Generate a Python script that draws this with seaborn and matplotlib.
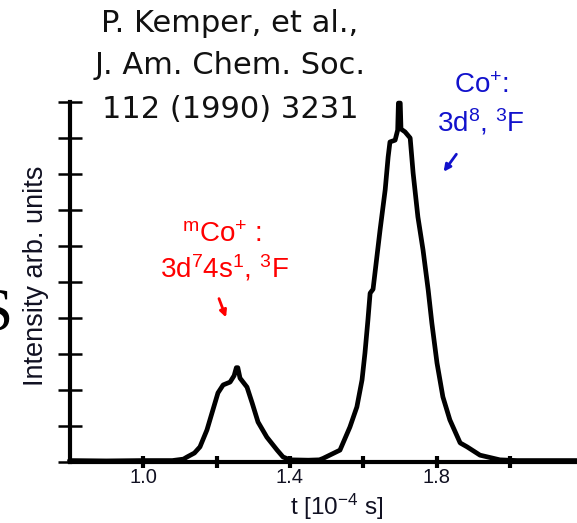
import numpy as np
import pandas as pd
import matplotlib
matplotlib.use("Agg")
import matplotlib.pyplot as plt
import seaborn as sns

# ---- data ----
t_values = [0.80, 0.90, 1.00, 1.08, 1.11, 1.120, 1.140, 1.155, 1.174, 1.190, 1.204,
            1.218, 1.237, 1.248, 1.254, 1.258, 1.264, 1.283, 1.297, 1.313, 1.337,
            1.365, 1.381, 1.40, 1.45, 1.48, 1.490, 1.510, 1.536, 1.563, 1.582,
            1.596, 1.604, 1.612, 1.618, 1.626, 1.645, 1.659, 1.667, 1.672, 1.686,
            1.693, 1.695, 1.700, 1.702, 1.713, 1.727, 1.735, 1.748, 1.762, 1.776,
            1.786, 1.800, 1.816, 1.835, 1.863, 1.882, 1.917, 1.971, 2.018, 2.10, 2.18]
intensity = [0.004, 0.003, 0.004, 0.004, 0.008, 0.014, 0.025, 0.042, 0.089, 0.144, 0.192,
             0.214, 0.222, 0.240, 0.262, 0.262, 0.233, 0.208, 0.164, 0.111, 0.069,
             0.033, 0.014, 0.006, 0.005, 0.006, 0.010, 0.020, 0.033, 0.097, 0.153,
             0.228, 0.303, 0.394, 0.469, 0.480, 0.644, 0.756, 0.847, 0.889, 0.894,
             0.922, 0.997, 0.997, 0.925, 0.917, 0.900, 0.803, 0.681, 0.589, 0.478,
             0.386, 0.275, 0.181, 0.117, 0.053, 0.042, 0.019, 0.006, 0.004, 0.004, 0.004]
x_ticks = [1.0, 1.2, 1.4, 1.6, 1.8, 2.0]
x_tick_labels = ["1.0", "", "1.4", "", "1.8", ""]
y_ticks = [0.0, 0.1, 0.2, 0.3, 0.4, 0.5, 0.6, 0.7, 0.8, 0.9, 1.0]
citation = ["P. Kemper, et al.,", "J. Am. Chem. Soc.", "112 (1990) 3231"]

df = pd.DataFrame({"t": t_values, "I": intensity})

sns.set_theme(style="white")
plt.rcParams["font.family"] = ["Liberation Sans", "DejaVu Sans"]
plt.rcParams["mathtext.fontset"] = "custom"
plt.rcParams["mathtext.rm"] = "Liberation Sans"
plt.rcParams["mathtext.it"] = "Liberation Sans"
plt.rcParams["mathtext.bf"] = "Liberation Sans:bold"

W, H = 577, 523
fig = plt.figure(figsize=(W / 100, H / 100), dpi=100)
fig.patch.set_facecolor("white")

def fx(px):
    return px / W

def fy(py):
    return 1 - py / H

ax = fig.add_axes([fx(69.5), fy(462), (W - 69.5) / W, 360 / H])
ax.set_facecolor("white")

sns.lineplot(data=df, x="t", y="I", ax=ax, color="black", linewidth=3.4,
             sort=False, estimator=None)
for ln in ax.lines:
    ln.set_clip_on(False)
    ln.set_solid_joinstyle("round")

ax.set_xlim(0.8, 0.8 + 507.5 / 367.5)
ax.set_ylim(0, 1.0)
ax.set_xticks(x_ticks)
ax.set_xticklabels(x_tick_labels)
ax.set_yticks(y_ticks)
ax.set_yticklabels([])
ax.set_xlabel("")
ax.set_ylabel("")

for s in ["top", "right"]:
    ax.spines[s].set_visible(False)
for s in ["left", "bottom"]:
    ax.spines[s].set_visible(True)
    ax.spines[s].set_linewidth(3.0)
    ax.spines[s].set_color("black")

ax.tick_params(axis="x", direction="inout", length=9, width=3.0, color="black",
               labelsize=14.5, labelcolor="#111122", pad=0, bottom=True)
ax.tick_params(axis="y", direction="inout", length=17, width=1.8, color="black",
               left=True)

# axis labels
fig.text(fx(337), fy(507), "t [10$^{-4}$ s]", ha="center", va="center",
         fontsize=17.5, color="#111122")
fig.text(fx(36), fy(276), "Intensity arb. units", ha="center", va="center",
         rotation=90, fontsize=19.5, color="#111122")

# citation
for i, line in enumerate(citation):
    fig.text(fx(230), fy([23, 66, 109][i]), line, ha="center", va="center",
             fontsize=22, color="#111111", family=["DejaVu Sans"])

# stray clipped letter at left edge (cut off in the reference too)
fig.text(fx(13), fy(315), "S", ha="right", va="center", fontsize=44,
         color="black", family=["Liberation Serif", "DejaVu Serif"])

# annotations
blue = "#1212CC"
red = "#FF0000"
fig.text(fx(481), fy(86), "Co$^{+}$:", ha="center", va="center", fontsize=20, color=blue)
fig.text(fx(481), fy(122), "3d$^{8}$, $^{3}$F", ha="center", va="center", fontsize=20, color=blue)
ax.annotate("", xy=(fx(442), fy(174)), xytext=(fx(458), fy(152)),
            xycoords="figure fraction", textcoords="figure fraction",
            arrowprops=dict(arrowstyle="-|>", color=blue, lw=2, mutation_scale=10))

fig.text(fx(222), fy(235), "${}^{\\mathrm{m}}$Co$^{+}$ :", ha="center", va="center",
         fontsize=20, color=red)
fig.text(fx(224), fy(268), "3d$^{7}$4s$^{1}$, $^{3}$F", ha="center", va="center",
         fontsize=20, color=red)
ax.annotate("", xy=(fx(227), fy(320)), xytext=(fx(218), fy(296)),
            xycoords="figure fraction", textcoords="figure fraction",
            arrowprops=dict(arrowstyle="-|>", color=red, lw=2, mutation_scale=10))

fig.savefig("out.png", dpi=100, facecolor="white")
